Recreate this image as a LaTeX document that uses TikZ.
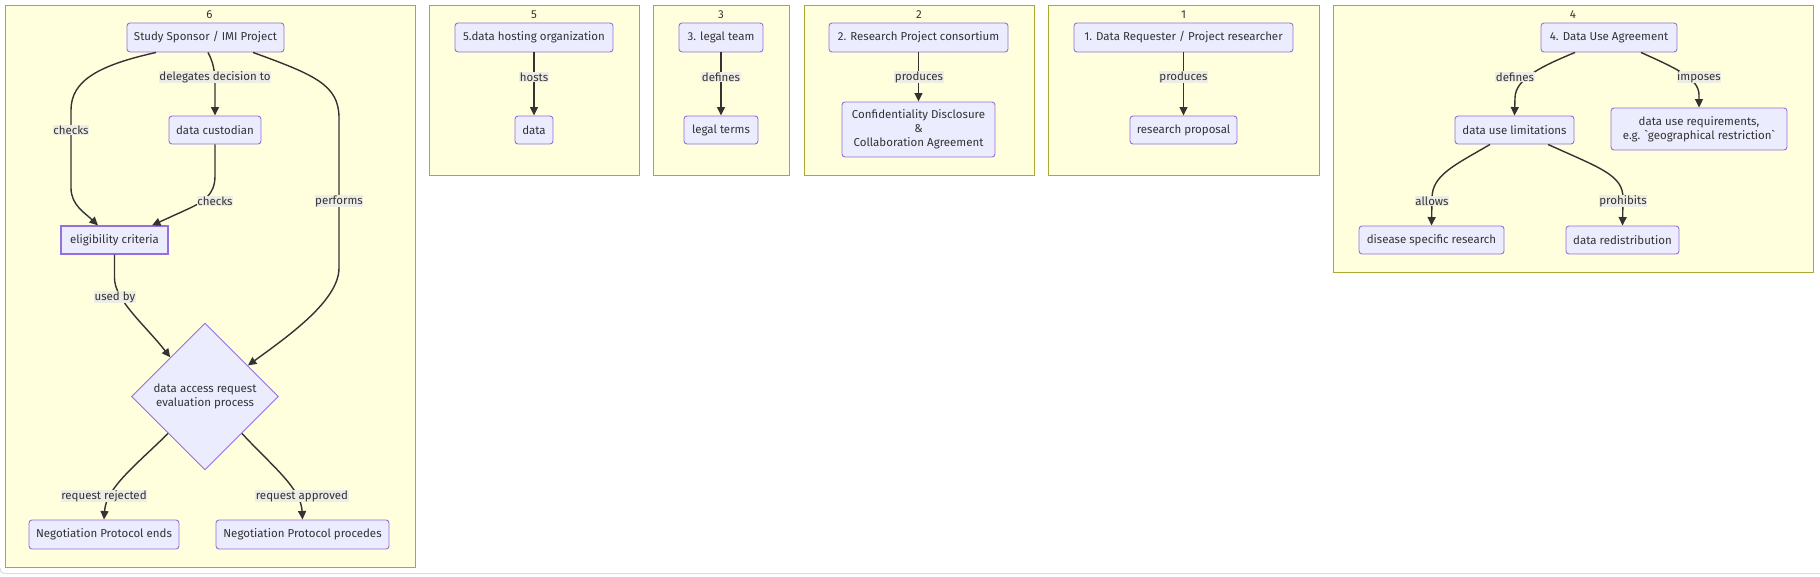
\documentclass[tikz,border=0pt]{standalone}
\usepackage{fontspec}
\setmainfont{Fira Sans}
\usetikzlibrary{arrows.meta,shapes.geometric,calc}
\definecolor{nodefill}{HTML}{ECECFF}
\definecolor{nodeline}{HTML}{9370DB}
\definecolor{clfill}{HTML}{FFFFDE}
\definecolor{clline}{HTML}{AAAA33}
\definecolor{ink}{HTML}{333333}
\definecolor{lblfill}{HTML}{EDEDE6}
\definecolor{framegray}{HTML}{DADDE2}
\tikzset{
  txt/.style={font=\fontsize{11.5pt}{14pt}\selectfont, text=ink},
  box/.style={txt, draw=nodeline, fill=nodefill, line width=0.9pt, rounded corners=3pt,
    inner sep=0pt, align=center, minimum height=29pt},
  sqbox/.style={box, rounded corners=0pt, line width=1.2pt},
  decision/.style={txt, diamond, draw=nodeline, fill=nodefill, line width=0.9pt,
    inner sep=0pt, align=center, minimum width=147pt, minimum height=147pt},
  cluster/.style={draw=clline, fill=clfill, line width=0.9pt, inner sep=0pt, anchor=north west},
  cltitle/.style={txt},
  elabel/.style={txt, fill=lblfill, inner sep=0.6pt},
  edge/.style={draw=ink, line width=1.4pt, -{Triangle[length=8.5pt,width=8pt]}},
}
\begin{document}
\begin{tikzpicture}[x=1pt,y=-1pt]
\useasboundingbox (0,0) rectangle (1820,577);
\fill[white] (0,0) rectangle (1820,577);
\draw[framegray, line width=1pt] (0,568) .. controls (0,572) and (2,573.5) .. (6,573.5) -- (1820,573.5);

% clusters
\node[cluster, minimum width=410pt, minimum height=561pt] (c6) at (4.5,5.5) {};
\node[cluster, minimum width=210pt, minimum height=170pt] (c5) at (429,5.5) {};
\node[cluster, minimum width=136pt, minimum height=170pt] (c3) at (653,5.5) {};
\node[cluster, minimum width=230pt, minimum height=170pt] (c2) at (804,5.5) {};
\node[cluster, minimum width=271pt, minimum height=170pt] (c1) at (1048,5.5) {};
\node[cluster, minimum width=480pt, minimum height=267pt] (c4) at (1333,5.5) {};
\node[cltitle] (t6) at (209.5,15) {6};
\node[cltitle] (t5) at (534,15) {5};
\node[cltitle] (t3) at (721,15) {3};
\node[cltitle] (t2) at (919,15) {2};
\node[cltitle] (t1) at (1183.5,15) {1};
\node[cltitle] (t4) at (1573,15) {4};

% cluster 6
\node[box, minimum width=157pt] (sp) at (205.5,37.5) {Study Sponsor / IMI Project};
\node[box, minimum width=92pt, minimum height=28pt] (dc) at (215,130) {data custodian};
\node[sqbox, minimum width=107pt, minimum height=28pt] (el) at (114.5,240) {eligibility criteria};
\node[decision] (dar) at (205,396.5) {data access request\\evaluation process};
\node[box, minimum width=150pt] (npe) at (104,534.5) {Negotiation Protocol ends};
\node[box, minimum width=173pt] (npp) at (302.5,534.5) {Negotiation Protocol procedes};

% cluster 5
\node[box, minimum width=158pt] (dh) at (534,37.5) {5.data hosting organization};
\node[box, minimum width=38pt, minimum height=28pt] (data) at (534,130) {data};
% cluster 3
\node[box, minimum width=84pt] (lt) at (721,37.5) {3. legal team};
\node[box, minimum width=74pt, minimum height=28pt] (terms) at (721,130) {legal terms};
% cluster 2
\node[box, minimum width=179pt] (rp) at (918.5,37.5) {2. Research Project consortium};
\node[box, minimum width=153pt, minimum height=55pt] (cda) at (918.5,129.5) {Confidentiality Disclosure\\\&\\Collaboration Agreement};
% cluster 1
\node[box, minimum width=219pt] (dr) at (1183.5,37.5) {1. Data Requester / Project researcher};
\node[box, minimum width=107pt, minimum height=28pt] (rprop) at (1183.5,130) {research proposal};
% cluster 4
\node[box, minimum width=136pt] (dua) at (1609,37.5) {4. Data Use Agreement};
\node[box, minimum width=119pt, minimum height=28pt] (dul) at (1514.5,130) {data use limitations};
\node[box, minimum width=176pt, minimum height=42pt] (dur) at (1699,129) {data use requirements,\\e.g. \textasciigrave geographical restriction\textasciigrave};
\node[box, minimum width=145pt, minimum height=28pt] (dsr) at (1431.5,240) {disease specific research};
\node[box, minimum width=113pt, minimum height=28pt] (redis) at (1622.5,240) {data redistribution};

% edges cluster 6
\draw[edge] ([xshift=-49.5pt]sp.south) .. controls (100,65) and (71,80) .. (71,110) -- (71,188) .. controls (71,205) and (85,213) .. ([xshift=-16.5pt]el.north);
\draw[edge] ([xshift=2.5pt]sp.south) .. controls (213,62) and (215,70) .. (215,85) -- (dc.north);
\draw[edge] (dc.south) -- (215,176) .. controls (215,195) and (203,202) .. (188,209) -- ([xshift=37.5pt]el.north);
\draw[edge] ([xshift=47.5pt]sp.south) .. controls (315,75) and (339,85) .. (339,118) -- (339,268) .. controls (339,300) and (290,335) .. ($(dar.north)!0.58!(dar.east)$);
\draw[edge] (el.south) -- (114.5,278) .. controls (114.5,300) and (145,325) .. ($(dar.north)!0.47!(dar.west)$);
\draw[edge] ($(dar.west)!0.5!(dar.south)$) .. controls (135,466) and (106,488) .. (npe.north);
\draw[edge] ($(dar.south)!0.5!(dar.east)$) .. controls (272,466) and (301,488) .. (npp.north);
% straight edges
\draw[edge] (dh) -- (data);
\draw[edge] (lt) -- (terms);
\draw[edge] (rp) -- (cda);
\draw[edge] (dr) -- (rprop);
% cluster 4 edges
\draw[edge] ([xshift=-34pt]dua.south) .. controls (1545,65) and (1515,78) .. (1515,98) -- (dul.north);
\draw[edge] ([xshift=32pt]dua.south) .. controls (1675,68) and (1699,78) .. (1699,95) -- (dur.north);
\draw[edge] ([xshift=-24.5pt]dul.south) .. controls (1455,165) and (1432,175) .. (1432,198) -- (dsr.north);
\draw[edge] ([xshift=33.5pt]dul.south) .. controls (1600,168) and (1623,175) .. (1623,198) -- (redis.north);

% edge labels
\node[elabel] (l1) at (71,130) {checks};
\node[elabel] (l2) at (215,77) {delegates decision to};
\node[elabel] (l3) at (215,201) {checks};
\node[elabel] (l4) at (339,201) {performs};
\node[elabel] (l5) at (115,297) {used by};
\node[elabel] (l6) at (104,496) {request rejected};
\node[elabel] (l7) at (302,496) {request approved};
\node[elabel] (l8) at (534,77) {hosts};
\node[elabel] (l9) at (721,77) {defines};
\node[elabel] (l10) at (919,77) {produces};
\node[elabel] (l11) at (1183.5,77) {produces};
\node[elabel] (l12) at (1515,77) {defines};
\node[elabel] (l13) at (1699,77) {imposes};
\node[elabel] (l14) at (1432,201) {allows};
\node[elabel] (l15) at (1623,201) {prohibits};
\end{tikzpicture}
\end{document}
